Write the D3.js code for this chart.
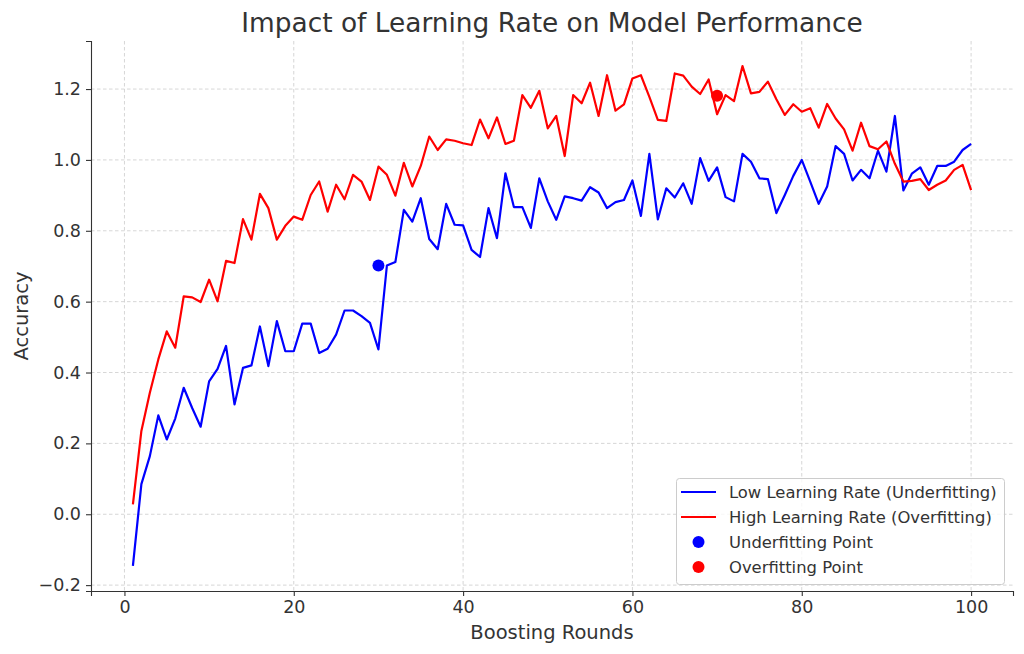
<!DOCTYPE html>
<html><head><meta charset="utf-8">
<script src="https://cdn.jsdelivr.net/npm/d3@7"></script>
<style>body{margin:0;background:#fff;} svg{display:block;font-family:"DejaVu Sans",sans-serif;}</style>
</head><body><svg id="c" width="1024" height="654"></svg>
<script>
const rounds = d3.range(1, 101);
const lowLR = [-0.146,0.085,0.164,0.279,0.211,0.27,0.357,0.30,0.247,0.375,
0.41,0.475,0.31,0.413,0.42,0.53,0.418,0.545,0.46,0.46,
0.538,0.538,0.455,0.467,0.507,0.575,0.575,0.559,0.54,0.465,
0.702,0.712,0.859,0.826,0.892,0.777,0.748,0.876,0.817,0.815,
0.746,0.726,0.864,0.779,0.962,0.867,0.867,0.808,0.948,0.883,
0.831,0.897,0.892,0.885,0.923,0.908,0.864,0.881,0.887,0.942,
0.842,1.017,0.832,0.92,0.894,0.934,0.876,1.005,0.941,0.979,
0.895,0.883,1.017,0.995,0.948,0.946,0.85,0.901,0.955,1.0,
0.939,0.876,0.925,1.039,1.017,0.942,0.972,0.948,1.026,0.967,
1.124,0.914,0.961,0.979,0.93,0.983,0.983,0.995,1.028,1.045];
const highLR = [0.028,0.235,0.343,0.437,0.516,0.47,0.615,0.612,0.599,0.662,
0.601,0.715,0.709,0.833,0.775,0.904,0.864,0.775,0.814,0.84,
0.831,0.901,0.939,0.854,0.93,0.889,0.958,0.939,0.887,0.981,
0.958,0.899,0.992,0.925,0.983,1.066,1.028,1.058,1.054,1.047,
1.042,1.114,1.061,1.12,1.045,1.054,1.183,1.147,1.195,1.089,
1.124,1.011,1.183,1.16,1.218,1.124,1.239,1.139,1.157,1.23,
1.239,1.178,1.113,1.11,1.244,1.238,1.207,1.186,1.227,1.129,
1.183,1.166,1.265,1.188,1.192,1.221,1.171,1.127,1.157,1.136,
1.146,1.091,1.158,1.117,1.086,1.026,1.105,1.039,1.03,1.052,
0.989,0.939,0.941,0.946,0.915,0.93,0.942,0.972,0.986,0.915];
const xTicks = [0,20,40,60,80,100];
const yTicks = [-0.2,0.0,0.2,0.4,0.6,0.8,1.0,1.2];
const underPoint = {x:30, y:0.702};
const overPoint = {x:70, y:1.181};
const legendItems = [
 {label:"Low Learning Rate (Underfitting)", color:"#0000ff", type:"line"},
 {label:"High Learning Rate (Overfitting)", color:"#ff0000", type:"line"},
 {label:"Underfitting Point", color:"#0000ff", type:"dot"},
 {label:"Overfitting Point", color:"#ff0000", type:"dot"}
];

const svg = d3.select("#c");
const L=91, R=1013, T=41, B=591;
const x = d3.scaleLinear().domain([-3.95,104.95]).range([L,R]);
const y = d3.scaleLinear().domain([-0.2166,1.3356]).range([B,T]);
const grid = "#cccccc", txt = "#333333";

// grid
svg.append("g").selectAll("line").data(xTicks).join("line")
 .attr("x1",d=>x(d)).attr("x2",d=>x(d)).attr("y1",T).attr("y2",B)
 .attr("stroke",grid).attr("stroke-width",0.8).attr("stroke-dasharray","3.5,2.5");
svg.append("g").selectAll("line").data(yTicks).join("line")
 .attr("x1",L).attr("x2",R).attr("y1",d=>y(d)).attr("y2",d=>y(d))
 .attr("stroke",grid).attr("stroke-width",0.8).attr("stroke-dasharray","3.5,2.5");

// axes
const xAxis = svg.append("g").attr("transform",`translate(0,${B})`)
 .call(d3.axisBottom(x).tickValues(xTicks).tickFormat(d3.format("d")).tickSizeOuter(0).tickSize(5).tickPadding(5));
const yAxis = svg.append("g").attr("transform",`translate(${L},0)`)
 .call(d3.axisLeft(y).tickValues(yTicks).tickFormat(d3.format(".1f")).tickSizeOuter(0).tickSize(5).tickPadding(5));
[xAxis,yAxis].forEach(a=>{
 a.select(".domain").attr("stroke",txt).attr("stroke-width",1.1);
 a.selectAll(".tick line").attr("stroke",txt).attr("stroke-width",1.1);
 a.selectAll(".tick text").attr("fill",txt).style("font-size","17.5px").style("font-family","DejaVu Sans");
});
yAxis.selectAll(".tick text").text(d=>d<0?"\u22120.2":d3.format(".1f")(d));

// lines
const line = d3.line().x((d,i)=>x(rounds[i])).y(d=>y(d));
svg.append("path").datum(lowLR).attr("d",line).attr("fill","none").attr("stroke","#0000ff").attr("stroke-width",2.2).attr("stroke-linejoin","round");
svg.append("path").datum(highLR).attr("d",line).attr("fill","none").attr("stroke","#ff0000").attr("stroke-width",2.2).attr("stroke-linejoin","round");
svg.append("circle").attr("cx",x(underPoint.x)).attr("cy",y(underPoint.y)).attr("r",6).attr("fill","#0000ff");
svg.append("circle").attr("cx",x(overPoint.x)).attr("cy",y(overPoint.y)).attr("r",6).attr("fill","#ff0000");

// title and labels
svg.append("text").attr("x",(L+R)/2).attr("y",32).attr("text-anchor","middle")
 .attr("fill",txt).style("font-size","26.4px").text("Impact of Learning Rate on Model Performance");
svg.append("text").attr("x",(L+R)/2).attr("y",639).attr("text-anchor","middle")
 .attr("fill",txt).style("font-size","19.5px").text("Boosting Rounds");
svg.append("text").attr("transform",`translate(28,${(T+B)/2}) rotate(-90)`).attr("text-anchor","middle")
 .attr("fill",txt).style("font-size","19.5px").text("Accuracy");

// legend
const lg = svg.append("g").attr("transform","translate(676,478)");
lg.append("rect").attr("x",0.5).attr("y",0.5).attr("width",328).attr("height",106).attr("rx",3)
 .attr("fill","#ffffff").attr("fill-opacity",0.8).attr("stroke","#cccccc");
legendItems.forEach((it,i)=>{
 const cy = 14 + i*25;
 if(it.type==="line") lg.append("line").attr("x1",5).attr("x2",40).attr("y1",cy).attr("y2",cy).attr("stroke",it.color).attr("stroke-width",2.2);
 else lg.append("circle").attr("cx",22.5).attr("cy",cy).attr("r",6).attr("fill",it.color);
 lg.append("text").attr("x",53).attr("y",cy+6).attr("fill",txt).style("font-size","16.4px").text(it.label);
});
</script></body></html>
